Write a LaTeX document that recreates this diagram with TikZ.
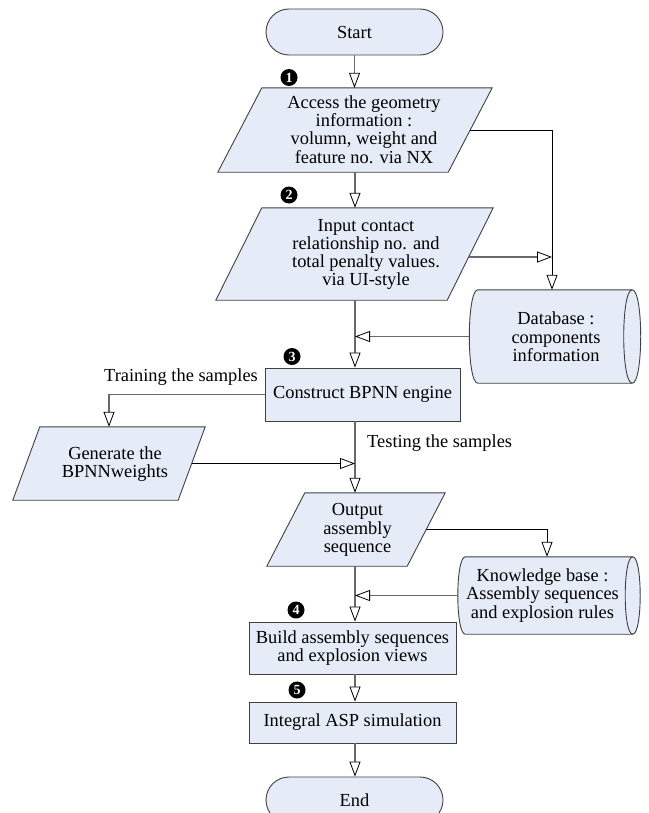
\documentclass[tikz,border=0pt]{standalone}
\usepackage{fontspec}
\setmainfont{Liberation Serif}
\usetikzlibrary{arrows.meta,calc}

\definecolor{boxfill}{RGB}{230,236,247}
\definecolor{edgegray}{RGB}{64,64,64}
\definecolor{linkgray}{RGB}{105,105,105}

\tikzset{
  x=1bp, y=-1bp,
  every node/.style={font=\fontsize{18.4bp}{18.3bp}\selectfont},
  shapeline/.style={draw=edgegray, line width=0.9bp, fill=boxfill},
  procbox/.style={shapeline, rectangle, inner sep=0pt, align=center},
  terminal/.style={procbox, rounded corners=23bp, minimum width=177bp, minimum height=46bp},
  body/.style={rectangle, inner sep=0pt},
  txt/.style={align=center, inner sep=0pt},
  tip/.style={-{Triangle[length=15bp, width=11bp, fill=white, color=black, line width=0.8bp]}},
  link/.style={draw=linkgray, line width=1.6bp, tip},
  thinlink/.style={draw=black, line width=0.8bp, tip},
  stepmark/.style={circle, fill=black, text=white, inner sep=0pt, minimum size=17bp,
    font=\fontsize{14bp}{14bp}\selectfont\bfseries},
}

% parallelogram around a body node: #1 node, #2 horizontal slant
\newcommand\slantshape[2]{%
  \filldraw[shapeline] (#1.north west) -- ($(#1.north east)+(#2,0)$)
    -- (#1.south east) -- ($(#1.south west)-(#2,0)$) -- cycle;}

% horizontal drum (stored data) around a body node: #1 node, #2 cap radius
\newcommand\drumshape[2]{%
  \filldraw[shapeline] (#1.north west) -- (#1.north east)
    .. controls ($(#1.north east)+(4/3*#2,0)$) and ($(#1.south east)+(4/3*#2,0)$) .. (#1.south east)
    -- (#1.south west)
    .. controls ($(#1.south west)-(4/3*#2,0)$) and ($(#1.north west)-(4/3*#2,0)$) .. (#1.north west)
    -- cycle;
  \draw[shapeline, fill=none] (#1.north east)
    .. controls ($(#1.north east)-(4/3*#2,0)$) and ($(#1.south east)-(4/3*#2,0)$) .. (#1.south east);}

\begin{document}
\begin{tikzpicture}
\useasboundingbox (0,0) rectangle (649,813);
\clip (0,0) rectangle (649,813);

\coordinate (axis) at (355,0);

% terminals and process boxes
\node[terminal] (start) at (354.5,32) {Start};
\node[procbox, minimum width=195bp, minimum height=53bp] (box) at (362.5,394.5) {Construct BPNN engine};
\node[procbox, minimum width=207bp, minimum height=52bp] (build) at (352.5,648) {Build assembly sequences\\and explosion views};
\node[procbox, minimum width=207bp, minimum height=41bp] (integ) at (352.5,722.5) {Integral ASP simulation};
\node[terminal] (stop) at (354.5,800) {End};

% input/output parallelograms
\node[body, minimum width=186bp, minimum height=84bp] (p1) at (355,130) {};
\slantshape{p1}{44}
\node[txt] (p1t) at (364,129.5) {Access the geometry\\information :\\volumn, weight and\\feature no. via NX};

\node[body, minimum width=185bp, minimum height=92bp] (p2) at (354.5,254) {};
\slantshape{p2}{46}
\node[txt] (p2t) at (366,254.5) {Input contact\\relationship no. and\\total penalty values.\\via UI-style};

\node[body, minimum width=138bp, minimum height=73bp] (gen) at (109,463.5) {};
\slantshape{gen}{27}
\node[txt] (gent) at (115,464) {Generate the\\BPNNweights};

\node[body, minimum width=102bp, minimum height=73bp] (out) at (356,529.5) {};
\slantshape{out}{38}
\node[txt] (outt) at (357.5,530) {Output\\assembly\\sequence};

% stores
\node[body, minimum width=154bp, minimum height=93bp] (db) at (555,336.5) {};
\drumshape{db}{8.5}
\node[txt] (dbt) at (556,337) {Database :\\components\\information};

\node[body, minimum width=167bp, minimum height=77bp] (kb) at (549,595.5) {};
\drumshape{kb}{7.5}
\node[txt] (kbt) at (542.5,595.5) {Knowledge base :\\Assembly sequences\\and explosion rules};

% connection points on slanted and curved edges
\coordinate (p1r) at ($(p1.east)+(22,0)$);
\coordinate (p2r) at ($(p2.east)+(21.5,3)$);
\coordinate (genr) at ($(gen.east)+(13.5,0)$);
\coordinate (outr) at ($(out.east)+(19,0)$);
\coordinate (dbl) at ($(db.west)-(8.5,0)$);
\coordinate (kbl) at ($(kb.west)-(7.5,0)$);
\coordinate (dbin) at ($(db.north)+(-3,0)$);
\coordinate (kbin) at ($(kb.north)+(-2,0)$);

% main flow
\draw[link] (start.south) -- (start.south |- p1.north);
\draw[link] (axis |- p1.south) -- (axis |- p2.north);
\draw[link] (axis |- p2.south) -- (axis |- box.north);
\draw[link] (axis |- box.south) -- (axis |- out.north);
\draw[link] (axis |- out.south) -- (axis |- build.north);
\draw[link] (axis |- build.south) -- (axis |- integ.north);
\draw[link] (axis |- integ.south) -- (axis |- stop.north);

% side branches
\draw[thinlink] (p1r) -| (dbin);
\draw[link] (p2r) -- (p2r -| dbin);
\draw[link] (dbl) -- (dbl -| axis);
\draw[link] (box.west) -| (gen.north);
\draw[thinlink] (genr) -- (genr -| axis);
\draw[thinlink] (outr) -| (kbin);
\draw[link] (kbl) -- (kbl -| axis);

% branch labels
\node[txt] (train) at (181,377) {Training the samples};
\node[txt, anchor=west] (test) at (367,443) {Testing the samples};

% step markers
\node[stepmark] (s1) at (289,77.5) {1};
\node[stepmark] (s2) at (289,195) {2};
\node[stepmark] (s3) at (292,356.5) {3};
\node[stepmark] (s4) at (296,610) {4};
\node[stepmark] (s5) at (297,690) {5};
\end{tikzpicture}
\end{document}
